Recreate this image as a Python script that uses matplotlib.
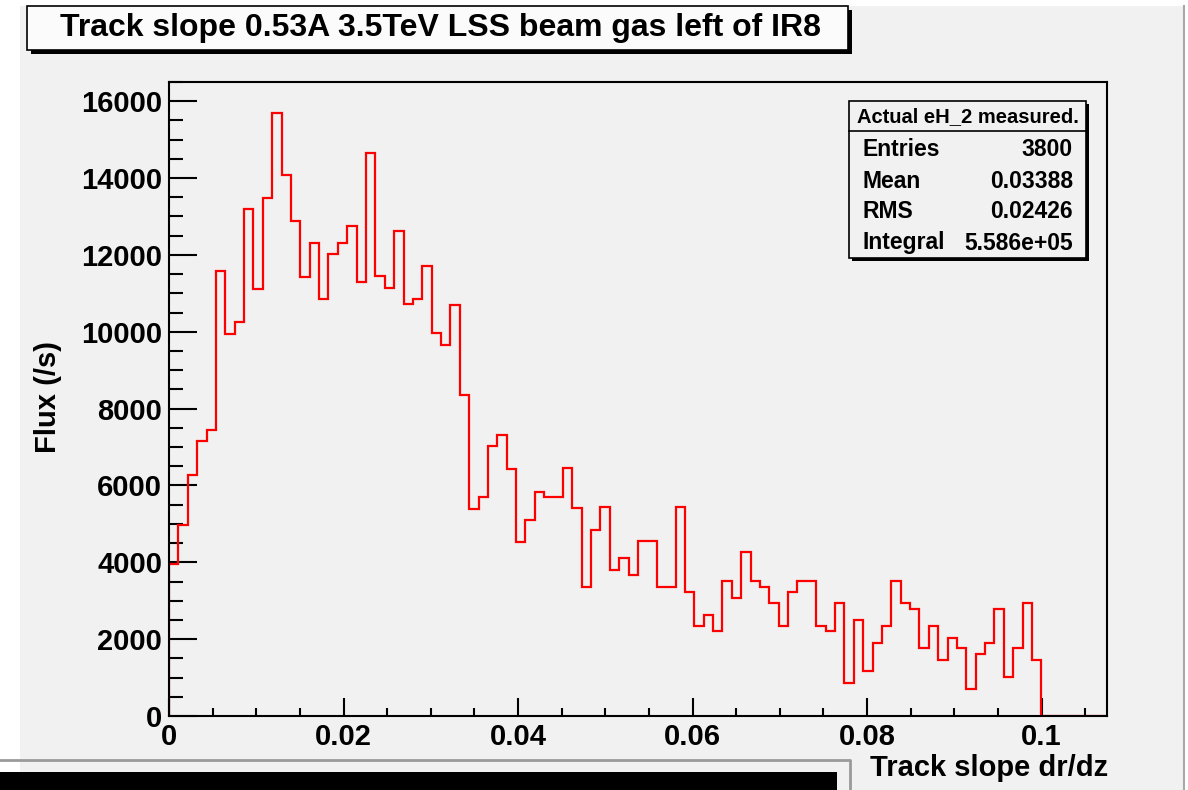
import numpy as np
import matplotlib
matplotlib.use("Agg")
import matplotlib.pyplot as plt
from matplotlib.patches import Rectangle
from matplotlib.lines import Line2D
from matplotlib.ticker import MultipleLocator

# ---------------- data ----------------
title = "Track slope 0.53A 3.5TeV LSS beam gas left of IR8"
x_label = "Track slope dr/dz"
y_label = "Flux (/s)"

x_min, x_max, n_bins = 0.0, 0.1075, 100
y_max = 16500

flux = [3950, 4970, 6280, 7160, 7450, 11570, 9950, 10250, 13190, 11120,
        13480, 15690, 14070, 12890, 11430, 12310, 10840, 12020, 12310, 12750,
        11290, 14660, 11440, 11140, 12610, 10710, 10850, 11720, 9970, 9660,
        10700, 8350, 5400, 5700, 7020, 7310, 6430, 4520, 5110, 5840,
        5710, 5710, 6450, 5420, 3360, 4840, 5440, 3810, 4100, 3670,
        4550, 4550, 3360, 3360, 5440, 3220, 2340, 2630, 2200, 3520,
        3080, 4260, 3520, 3370, 2930, 2340, 3240, 3520, 3520, 2350,
        2200, 2930, 860, 2500, 1160, 1900, 2340, 3520, 2930, 2790,
        1760, 2340, 1460, 2040, 1760, 700, 1610, 1900, 2790, 1020,
        1760, 2940, 1460, 0, 0, 0, 0, 0, 0, 0]

x_ticks = [0, 0.02, 0.04, 0.06, 0.08, 0.1]
x_tick_labels = ["0", "0.02", "0.04", "0.06", "0.08", "0.1"]
y_ticks = [0, 2000, 4000, 6000, 8000, 10000, 12000, 14000, 16000]
y_tick_labels = ["0", "2000", "4000", "6000", "8000", "10000", "12000", "14000", "16000"]

stats_header = "Actual eH_2 measured."
stats_names = ["Entries", "Mean", "RMS", "Integral"]
stats_values = ["3800", "0.03388", "0.02426", "5.586e+05"]

# ---------------- layout helpers ----------------
W, H = 1188, 790
GRAY = "#f1f1f1"
FONT = "Liberation Sans"

fig = plt.figure(figsize=(W / 100, H / 100), dpi=100)
fig.patch.set_facecolor("white")


def fx(px):
    return px / W


def fy(py):
    return 1 - py / H


def frect(x0, y0, x1, y1, **kw):
    r = Rectangle((fx(x0), fy(y1)), fx(x1) - fx(x0), fy(y0) - fy(y1),
                  transform=fig.transFigure, **kw)
    fig.add_artist(r)
    return r


def fline(xs, ys, **kw):
    l = Line2D([fx(v) for v in xs], [fy(v) for v in ys],
               transform=fig.transFigure, **kw)
    fig.add_artist(l)
    return l


# canvas background
frect(20, 6, 1183, 790, facecolor=GRAY, edgecolor="none", zorder=0)
fline([1184, 1184], [6, 790], color="#a8a8a8", lw=1.5, zorder=1)

# ---------------- axes ----------------
ax = fig.add_axes([fx(169), fy(716), fx(1107) - fx(169), fy(82) - fy(716)])
ax.set_facecolor(GRAY)
edges = np.linspace(x_min, x_max, n_bins + 1)
ax.stairs(flux, edges, color="red", lw=1.6, baseline=0, zorder=2)
ax.set_xlim(x_min, x_max)
ax.set_ylim(0, y_max)

ax.set_xticks(x_ticks)
ax.set_xticklabels(x_tick_labels)
ax.set_yticks(y_ticks)
ax.set_yticklabels(y_tick_labels)
ax.xaxis.set_minor_locator(MultipleLocator(0.005))
ax.yaxis.set_minor_locator(MultipleLocator(500))
ax.tick_params(axis="both", which="both", direction="in", width=1.5,
               top=False, right=False, colors="black")
ax.tick_params(axis="y", which="major", length=20, pad=5)
ax.tick_params(axis="y", which="minor", length=10)
ax.tick_params(axis="x", which="major", length=13, pad=5)
ax.tick_params(axis="x", which="minor", length=6)
for lab in ax.get_xticklabels() + ax.get_yticklabels():
    lab.set_fontfamily(FONT)
    lab.set_fontweight("bold")
    lab.set_fontsize(21)
for sp in ax.spines.values():
    sp.set_linewidth(1.5)
    sp.set_color("black")
    sp.set_zorder(3)

fig.text(fx(1108), fy(768), x_label, ha="right", va="center",
         fontsize=21, fontweight="bold", fontfamily=FONT)
fig.text(fx(48), fy(397), y_label, ha="center", va="center", rotation=90,
         fontsize=21, fontweight="bold", fontfamily=FONT)

# ---------------- title box ----------------
frect(31, 10, 852, 54, facecolor="black", edgecolor="none", zorder=4)
frect(27, 6, 848, 50, facecolor="#fbfbfb", edgecolor="black", lw=1.2, zorder=5)
fig.text(fx(440), fy(28), title, ha="center", va="center", fontsize=23,
         fontweight="bold", fontfamily=FONT, zorder=6)

# ---------------- stats box ----------------
sb_x0, sb_y0, sb_x1, sb_y1 = 849, 101, 1086, 258
frect(sb_x0 + 3, sb_y0 + 3, sb_x1 + 3, sb_y1 + 3, facecolor="black",
      edgecolor="none", zorder=7)
frect(sb_x0, sb_y0, sb_x1, sb_y1, facecolor=GRAY, edgecolor="black",
      lw=1.2, zorder=8)
fline([sb_x0, sb_x1], [131, 131], color="black", lw=1.2, zorder=9)
fig.text(fx((sb_x0 + sb_x1) / 2), fy(117), stats_header, ha="center",
         va="center", fontsize=14.5, fontweight="bold", fontfamily=FONT,
         zorder=10)
row_y = [150, 182, 212, 243]
for name, val, yy in zip(stats_names, stats_values, row_y):
    fig.text(fx(863), fy(yy), name, ha="left", va="center", fontsize=16.5,
             fontweight="bold", fontfamily=FONT, zorder=10)
    fig.text(fx(1073), fy(yy), val, ha="right", va="center", fontsize=16.5,
             fontweight="bold", fontfamily=FONT, zorder=10)

# ---------------- bottom overlapping pad ----------------
fline([0, 850, 850], [760, 760, 790], color="#9a9a9a", lw=2.0, zorder=11)
frect(0, 772, 837, 790, facecolor="black", edgecolor="none", zorder=12)

fig.savefig("out.png", dpi=100, facecolor=fig.get_facecolor())
